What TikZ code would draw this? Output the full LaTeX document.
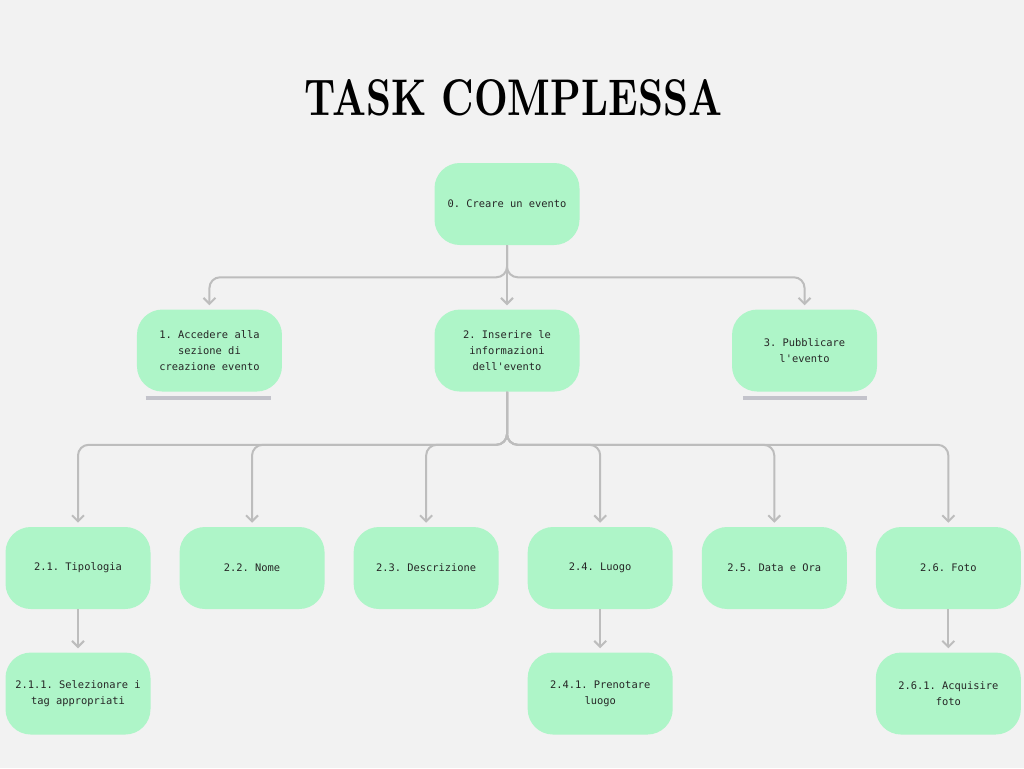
\documentclass[tikz,border=0pt]{standalone}
\usepackage{fontspec}
\usepackage{graphicx}
\setmonofont{DejaVu Sans Mono}
\usetikzlibrary{arrows.meta, positioning}
\definecolor{bggray}{HTML}{F2F2F2}
\definecolor{boxgreen}{HTML}{AEF5C8}
\definecolor{linegray}{HTML}{BDBDBD}
\definecolor{bargray}{HTML}{C3C3CB}
\definecolor{textgray}{HTML}{262626}

\begin{document}
\begin{tikzpicture}[
        x=0.75pt, y=-0.75pt,
        node distance=48pt and 21.4pt,
        task/.style={rectangle, rounded corners=19pt, fill=boxgreen, minimum width=108.75pt, minimum height=61.5pt, inner sep=2pt, font=\ttfamily\fontsize{7.8}{12}\selectfont, align=center, text=textgray},
        link/.style={draw=linegray, line width=1.5pt, rounded corners=8pt, -{Straight Barb[length=4.5pt, width=9pt]}, shorten >=3pt},
        bar/.style={draw=bargray, line width=3pt}
    ]
    \fill[bggray] (0,0) rectangle (1024,768);

    \node[inner sep=0pt] (title) at (513.5,98) {\resizebox{313pt}{27pt}{\bfseries TASK COMPLESSA}};

    \node[task] (n0) at (507,204) {0. Creare un evento};
    \node[task, below=of n0] (n2) {2. Inserire le\\informazioni\\dell'evento};
    \node[task, left=114pt of n2] (n1) {1. Accedere alla\\sezione di\\creazione evento};
    \node[task, right=114pt of n2] (n3) {3. Pubblicare\\l'evento};

    \node[task] (n21) at (78,568) {2.1. Tipologia};
    \node[task, right=of n21] (n22) {2.2. Nome};
    \node[task, right=of n22] (n23) {2.3. Descrizione};
    \node[task, right=of n23] (n24) {2.4. Luogo};
    \node[task, right=of n24] (n25) {2.5. Data e Ora};
    \node[task, right=of n25] (n26) {2.6. Foto};

    \node[task, below=32.25pt of n21] (n211) {2.1.1. Selezionare i\\tag appropriati};
    \node[task, below=32.25pt of n24] (n241) {2.4.1. Prenotare\\luogo};
    \node[task, below=32.25pt of n26] (n261) {2.6.1. Acquisire\\foto};

    % underlines
    \draw[bar] ([shift={(9,6)}]n1.south west) -- ([shift={(-11,6)}]n1.south east);
    \draw[bar] ([shift={(11,6)}]n3.south west) -- ([shift={(-10,6)}]n3.south east);

    \draw[link] (n0.south) -- ++(0,32) -| (n1.north);
    \draw[link] (n0.south) -- (n2.north);
    \draw[link] (n0.south) -- ++(0,32) -| (n3.north);

    \foreach \c in {n21,n22,n23,n24,n25,n26}
        \draw[link] (n2.south) -- ++(0,53) -| (\c.north);

    \draw[link] (n21) -- (n211);
    \draw[link] (n24) -- (n241);
    \draw[link] (n26) -- (n261);
\end{tikzpicture}
\end{document}
